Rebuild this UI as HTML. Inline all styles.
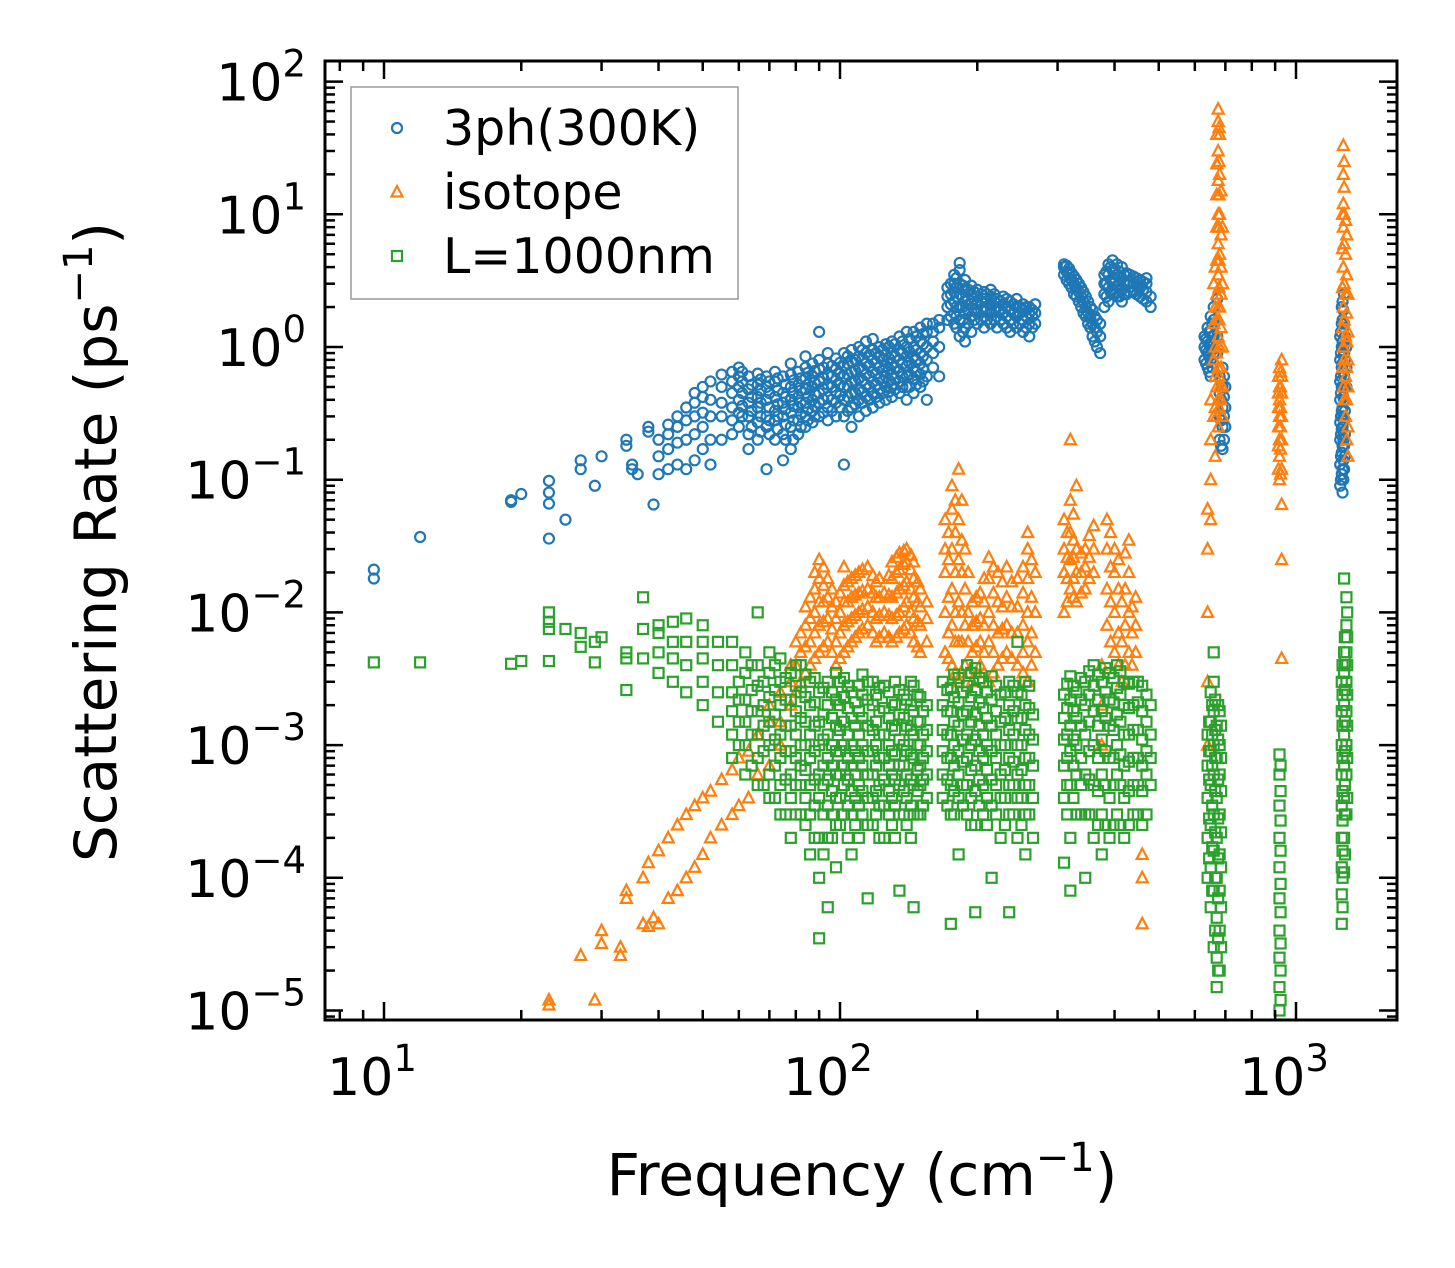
<!DOCTYPE html>
<html><head><meta charset="utf-8"><style>
html,body{margin:0;padding:0;background:#fff}
svg{display:block;font-family:"DejaVu Sans","Liberation Sans",sans-serif}
</style></head><body>
<svg id="chart" width="1455" height="1268" viewBox="0 0 1455 1268">
<rect x="0" y="0" width="1455" height="1268" fill="#fff"/>
<g id="marks"></g>
<g id="axes"></g>
<g id="legend"></g>
</svg>
<script>
const xTicks=[1,2,3];
const yTicks=[2,1,0,-1,-2,-3,-4,-5];
const seriesNames=["3ph(300K)","isotope","L=1000nm"];
const threePh=[[9.5,[0.021,0.018]],[12,[0.037]],[19,[0.07,0.068]],[20,[0.078]],[23,[0.036,0.066,0.08,0.098]],[25,[0.05]],[27,[0.12,0.14]],[29,[0.09]],[30,[0.15]],[34,[0.2,0.18]],[35,[0.13,0.12]],[36,[0.11]],[38,[0.25,0.23]],[39,[0.065]],[40,[0.11,0.15,0.2]],[42,[0.12,0.17,0.22,0.26]],[44,[0.13,0.19,0.25,0.3]],[46,[0.12,0.2,0.28,0.35]],[48,[0.14,0.22,0.3,0.38,0.45]],[50,[0.17,0.25,0.32,0.42,0.5]],[52,[0.13,0.2,0.3,0.4,0.55]],[55,[0.2,0.3,0.38,0.5,0.62]],[58,[0.22,0.28,0.35,0.45,0.55,0.65]],[60,[0.25,0.32,0.4,0.5,0.6,0.7]],[63,[0.17,0.22,0.3,0.38,0.48,0.6]],[66,[0.2,0.27,0.35,0.42,0.52,0.63]],[69,[0.12,0.25,0.3,0.4,0.5,0.6]],[72,[0.2,0.28,0.33,0.42,0.55,0.65]],[75,[0.14,0.22,0.3,0.38,0.45,0.6]],[78,[0.17,0.25,0.32,0.4,0.5,0.62,0.75]],[81,[0.22,0.28,0.35,0.42,0.52,0.65]],[84,[0.25,0.3,0.38,0.48,0.58,0.7,0.85]],[87,[0.27,0.33,0.4,0.5,0.6,0.75]],[90,[0.3,0.38,0.45,0.55,0.68,0.8,1.3]],[94,[0.28,0.35,0.42,0.52,0.62,0.75,0.9]],[98,[0.3,0.38,0.46,0.56,0.68,0.82]],[102,[0.13,0.3,0.4,0.5,0.6,0.72,0.9]],[106,[0.25,0.35,0.45,0.55,0.65,0.78,0.95]],[110,[0.3,0.4,0.48,0.58,0.7,0.85,1.0]],[114,[0.33,0.42,0.52,0.62,0.75,0.9,1.1]],[118,[0.35,0.45,0.55,0.65,0.8,0.95,1.15]],[122,[0.38,0.48,0.58,0.7,0.85,1.0]],[126,[0.4,0.5,0.6,0.72,0.88,1.05]],[130,[0.42,0.52,0.62,0.75,0.9,1.1]],[135,[0.45,0.55,0.66,0.8,0.95,1.2]],[140,[0.4,0.5,0.6,0.72,0.85,1.0,1.3]],[145,[0.45,0.58,0.7,0.85,1.0,1.3]],[150,[0.5,0.62,0.75,0.9,1.1,1.4]],[155,[0.4,0.6,0.8,1.0,1.3,1.5]],[160,[0.7,0.9,1.1,1.3,1.5]],[165,[0.6,1.0,1.4,1.6]],[172,[1.6,2.0,2.4,2.8]],[178,[1.5,1.8,2.2,2.6,3.0,3.5]],[183,[1.2,1.6,2.0,2.5,3.0,3.8,4.3]],[188,[1.1,1.4,1.8,2.2,2.7,3.2]],[194,[1.3,1.7,2.1,2.5,2.9]],[200,[1.5,1.8,2.1,2.4,2.7]],[207,[1.4,1.7,2.0,2.3,2.6]],[214,[1.5,1.8,2.1,2.4,2.7]],[221,[1.4,1.7,2.0,2.3]],[228,[1.5,1.8,2.1,2.4]],[236,[1.3,1.6,1.9,2.2]],[244,[1.4,1.7,2.0,2.3]],[252,[1.3,1.6,1.9,2.1]],[260,[1.2,1.5,1.8,2.0]],[268,[1.5,1.8,2.1]],[310,[3.5,4.0,4.2]],[318,[3.0,3.5,3.9]],[326,[2.5,3.0,3.4]],[334,[2.2,2.6,3.0]],[342,[1.8,2.2,2.6]],[350,[1.5,1.8,2.2]],[358,[1.2,1.5,1.9]],[366,[1.0,1.3,1.6]],[372,[0.9,1.2,1.5]],[380,[2.0,2.5,3.0,3.5]],[388,[2.2,2.8,3.5,4.2]],[396,[2.5,3.0,3.8,4.5]],[405,[2.4,2.9,3.5,4.2]],[415,[2.2,2.7,3.3,4.0]],[425,[2.5,3.0,3.6]],[440,[2.6,3.0,3.4]],[455,[2.4,2.8,3.2]],[470,[2.2,2.6,3.0,3.3]],[480,[2.0,2.4]],[630,[0.8,1.0,1.2]],[640,[0.7,0.9,1.1,1.4]],[650,[0.6,0.8,1.0,1.3,1.7]],[660,[0.9,1.2,1.6,2.0]],[672,[0.9,1.2,2.3]],[680,[0.2,0.3,0.45,0.6]],[690,[0.17,0.25,0.35,0.5,0.7]],[700,[0.25,0.35,0.5]],[1255,[0.1,0.15,0.22,0.3,0.45,0.6,0.9,1.3]],[1265,[0.08,0.12,0.18,0.25,0.35,0.5,0.75,1.1,1.6,2.2]],[1275,[0.12,0.18,0.28,0.4,0.6,0.9,1.5,2.5]],[1290,[0.5,0.7,1.0]]];
const threePhExtra=[[61,[0.3,0.36,0.45,0.55,0.65]],[64,[0.25,0.33,0.42,0.52]],[67,[0.23,0.3,0.38,0.47,0.57]],[70,[0.22,0.28,0.35,0.45,0.55]],[73,[0.24,0.3,0.37,0.47,0.58]],[76,[0.2,0.26,0.34,0.42,0.52]],[79,[0.2,0.28,0.36,0.45,0.56]],[82,[0.25,0.31,0.38,0.47,0.58]],[85,[0.28,0.34,0.42,0.52,0.64]],[88,[0.3,0.36,0.44,0.54,0.66]],[92,[0.32,0.4,0.48,0.58,0.7]],[96,[0.33,0.4,0.5,0.6,0.72]],[100,[0.35,0.43,0.52,0.63,0.76]],[104,[0.33,0.42,0.51,0.62,0.75,0.85]],[108,[0.37,0.45,0.55,0.66,0.8]],[112,[0.38,0.46,0.56,0.68,0.82,0.95]],[116,[0.4,0.5,0.6,0.72,0.87]],[120,[0.42,0.52,0.63,0.76,0.9]],[124,[0.45,0.55,0.66,0.8,0.95]],[128,[0.46,0.56,0.68,0.82,1.0]],[132,[0.48,0.58,0.7,0.85,1.05]],[137,[0.5,0.6,0.74,0.9,1.1]],[142,[0.5,0.62,0.76,0.92,1.15]],[147,[0.52,0.65,0.8,0.95,1.2]],[152,[0.55,0.68,0.85,1.05,1.25]],[175,[1.7,2.1,2.5,3.0]],[180,[1.4,1.7,2.0,2.4,2.8,3.3]],[186,[1.3,1.6,2.0,2.4,2.9]],[191,[1.5,1.9,2.3,2.7]],[197,[1.6,1.9,2.3,2.6]],[204,[1.6,1.9,2.2,2.5]],[210,[1.6,1.9,2.2,2.5]],[218,[1.6,1.9,2.2,2.5]],[225,[1.6,1.9,2.2]],[232,[1.4,1.7,2.0,2.3]],[240,[1.5,1.8,2.1]],[248,[1.5,1.8,2.0]],[256,[1.4,1.7,2.0]],[264,[1.4,1.7,1.9]],[314,[3.2,3.7,4.1]],[322,[2.8,3.2,3.6]],[330,[2.4,2.8,3.2]],[338,[2.0,2.4,2.8]],[346,[1.7,2.0,2.4]],[354,[1.4,1.7,2.0]],[362,[1.1,1.4,1.7]],[384,[2.4,3.0,3.7]],[392,[2.6,3.2,4.0]],[400,[2.6,3.2,3.9]],[410,[2.4,3.0,3.7]],[420,[2.5,3.0,3.5]],[432,[2.6,3.1,3.5]],[447,[2.5,2.9,3.3]],[462,[2.3,2.7,3.1]],[635,[0.75,0.95,1.15]],[645,[0.65,0.85,1.05,1.3]],[655,[0.7,0.95,1.2,1.5]],[685,[0.18,0.28,0.4,0.55]],[695,[0.2,0.3,0.42,0.6]],[1250,[0.09,0.13,0.2,0.27,0.4,0.55,0.8,1.2]],[1260,[0.11,0.16,0.24,0.33,0.5,0.7,1.0,1.5,2.0]],[1270,[0.1,0.14,0.2,0.3,0.42,0.65,1.0,1.4,1.9]],[1280,[0.15,0.22,0.33,0.5,0.8,1.2]]];
const isotope=[[23,[1.2e-5,1.1e-5]],[27,[2.6e-5]],[29,[1.2e-5]],[30,[3.2e-5,4e-5]],[33,[2.6e-5,3e-5]],[34,[7e-5,8e-5]],[37,[4.5e-5,1e-4]],[38,[4.3e-5,1.3e-4]],[39,[5e-5]],[40,[4.5e-5,1.6e-4]],[42,[7e-5,2e-4]],[44,[8e-5,2.5e-4]],[46,[1e-4,3e-4]],[48,[1.2e-4,3.5e-4]],[50,[1.5e-4,4e-4]],[52,[2e-4,4.5e-4]],[55,[2.5e-4,5.5e-4]],[58,[3e-4,6.5e-4]],[60,[3.5e-4,8e-4]],[63,[4e-4,9e-4]],[66,[6e-4,1.2e-3]],[70,[7e-4,1.5e-3,2e-3]],[74,[1e-3,1.5e-3,2.5e-3]],[78,[2e-3,3e-3,4e-3]],[82,[3e-3,5e-3,7e-3]],[86,[4e-3,6e-3,9e-3,1.3e-2]],[90,[5e-3,8e-3,1.2e-2,1.8e-2,2.5e-2]],[94,[6e-3,9e-3,1.3e-2,1.8e-2]],[98,[4e-3,6e-3,9e-3,1.2e-2]],[102,[5e-3,8e-3,1.2e-2,1.6e-2,2.2e-2]],[106,[6e-3,9e-3,1.3e-2,1.8e-2]],[110,[7e-3,1e-2,1.4e-2,2e-2]],[115,[8e-3,1.1e-2,1.5e-2,2.2e-2]],[120,[6e-3,9e-3,1.3e-2,1.7e-2]],[125,[7e-3,1e-2,1.4e-2]],[130,[6e-3,9e-3,1.3e-2,1.8e-2,2.4e-2]],[135,[7e-3,1e-2,1.5e-2,2.1e-2,2.8e-2]],[140,[8e-3,1.2e-2,1.7e-2,2.4e-2,3e-2]],[145,[6e-3,9e-3,1.3e-2,1.8e-2,2.4e-2]],[150,[5e-3,8e-3,1.1e-2,1.5e-2]],[155,[6e-3,9e-3,1.2e-2]],[170,[5e-3,1e-2,2e-2,3e-2,5e-2]],[176,[4e-3,8e-3,1.5e-2,3e-2,6e-2,9e-2]],[182,[3e-3,6e-3,1.2e-2,2.5e-2,5e-2,0.12]],[188,[4e-3,8e-3,1.5e-2,3e-2]],[195,[3e-3,5e-3,8e-3,1.2e-2]],[203,[4e-3,6e-3,9e-3,1.4e-2]],[212,[3e-3,6e-3,1e-2,1.8e-2,2.6e-2]],[222,[4e-3,7e-3,1.2e-2,2e-2]],[232,[5e-3,8e-3,1.3e-2,2.2e-2]],[245,[4e-3,7e-3,1.1e-2,1.8e-2]],[258,[3e-3,6e-3,1e-2,1.8e-2,3e-2,4e-2]],[268,[5e-3,1e-2,2e-2]],[310,[1e-2,2e-2,3e-2,5e-2]],[320,[1.5e-2,2.5e-2,4e-2,7e-2,0.2]],[330,[1.2e-2,2e-2,3e-2,9e-2]],[345,[1.5e-2,2.2e-2,3e-2]],[360,[2e-2,3e-2,4.5e-2]],[375,[1e-3,2e-3,4e-3]],[385,[8e-3,1.5e-2,3e-2,5e-2]],[400,[5e-3,1e-2,2e-2,3e-2]],[415,[3e-3,6e-3,1.2e-2]],[430,[5e-3,1e-2,2e-2,3.5e-2]],[445,[5e-3,8e-3,1.3e-2]],[460,[4.5e-5,1e-4,1.5e-4]],[640,[1e-3,3e-3,1e-2,3e-2,6e-2]],[650,[5e-2,0.1,0.2,0.4]],[660,[0.3,0.8,1.5,3]],[675,[0.25,0.4,0.7,1.2,2,3.5,6,10,18,30,50,62]],[680,[0.5,1,2,5,10,20,40]],[690,[0.3,0.5,1,3,8]],[920,[0.1,0.15,0.2,0.3,0.4,0.5,0.7]],[930,[0.12,0.2,0.3,0.45,0.6,0.8,4.5e-3,2.5e-2,6.5e-2]],[1270,[0.5,1,2,4,8,12,20,33]],[1285,[0.3,0.6,1.2,2.5,5,9]],[1300,[0.15,0.25,0.5,0.8,1.3,2.5]]];
const isotopeExtra=[[80,[2.5e-3,4e-3,6e-3]],[84,[3.5e-3,5.5e-3,8e-3,1.1e-2]],[88,[4.5e-3,7e-3,1e-2,1.5e-2,2e-2]],[92,[5.5e-3,8.5e-3,1.2e-2,1.6e-2,2.2e-2]],[96,[5e-3,7.5e-3,1.1e-2,1.5e-2]],[100,[4.5e-3,7e-3,1e-2,1.4e-2]],[104,[5.5e-3,8.5e-3,1.2e-2,1.7e-2]],[108,[6.5e-3,9.5e-3,1.35e-2,1.9e-2]],[112,[7.5e-3,1.05e-2,1.45e-2,2.1e-2]],[118,[7e-3,1e-2,1.4e-2,1.9e-2]],[122,[6.5e-3,9.5e-3,1.3e-2,1.8e-2]],[128,[6.5e-3,9.5e-3,1.35e-2,1.9e-2]],[133,[6.5e-3,9.5e-3,1.4e-2,2e-2,2.6e-2]],[138,[7.5e-3,1.1e-2,1.6e-2,2.3e-2,2.9e-2]],[143,[7e-3,1e-2,1.5e-2,2.1e-2,2.7e-2]],[148,[5.5e-3,8.5e-3,1.2e-2,1.7e-2]],[173,[4.5e-3,7e-3,1.3e-2,2.5e-2,4e-2]],[179,[3.5e-3,6e-3,1e-2,2e-2,4e-2,7e-2]],[185,[3.5e-3,6e-3,1e-2,2e-2,3.5e-2,7e-2]],[191,[3.5e-3,6e-3,1e-2,2e-2]],[199,[3.5e-3,5.5e-3,8.5e-3,1.3e-2]],[207,[3.5e-3,5e-3,8e-3,1.2e-2,1.8e-2]],[217,[3.5e-3,5e-3,8e-3,1.4e-2,2.2e-2]],[227,[4.5e-3,7.5e-3,1.1e-2,1.7e-2]],[238,[4.5e-3,7e-3,1.1e-2,1.7e-2]],[252,[3.5e-3,5e-3,8e-3,1.4e-2,2.2e-2]],[263,[4e-3,7e-3,1.3e-2,2.5e-2]],[315,[1.2e-2,1.8e-2,2.6e-2,4e-2]],[325,[1.3e-2,1.8e-2,2.6e-2,3.5e-2,5.5e-2]],[338,[1.4e-2,2e-2,2.8e-2]],[352,[1.8e-2,2.6e-2,3.8e-2]],[392,[6e-3,1.2e-2,2.2e-2,4e-2]],[408,[4e-3,7e-3,1.5e-2,2.5e-2]],[422,[4e-3,8e-3,1.5e-2,2.8e-2]],[437,[4e-3,7e-3,1.1e-2]],[665,[0.15,0.35,0.6,1,2,4]],[670,[0.3,0.5,0.9,1.6,2.5,4.5,8,14,24,40]],[678,[0.35,0.6,1,1.6,2.8,4.5,8,14,25,45]],[685,[0.4,0.7,1.4,2.5,4,7,15]],[915,[0.12,0.18,0.25,0.35,0.45,0.6]],[925,[0.11,0.17,0.25,0.35,0.5,0.65]],[1265,[0.7,1.4,2.8,5.5,10]],[1275,[0.4,0.8,1.6,3,6,10,16,25]],[1292,[0.2,0.4,0.7,1.1,1.8,3.5,7]]];
const boundary=[[9.5,[4.2e-3]],[12,[4.2e-3]],[19,[4.1e-3]],[20,[4.3e-3]],[23,[4.3e-3,7.5e-3,8.5e-3,1e-2]],[25,[7.5e-3]],[27,[5.5e-3,7e-3]],[29,[4.2e-3,6e-3]],[30,[6.5e-3]],[34,[2.6e-3,4.5e-3,5e-3]],[37,[7.5e-3,1.3e-2,4.5e-3]],[40,[3.5e-3,5e-3,7e-3,8e-3]],[43,[3e-3,4.5e-3,6e-3,8.5e-3]],[46,[2.5e-3,4e-3,6e-3,9e-3]],[50,[2e-3,3e-3,4.5e-3,6e-3,8e-3]],[54,[1.5e-3,2.5e-3,4e-3,6e-3]],[58,[8e-4,1.2e-3,1.8e-3,2.5e-3,4e-3,6e-3]],[62,[6e-4,1e-3,1.5e-3,2.2e-3,3.5e-3,5e-3]],[66,[5e-4,8e-4,1.2e-3,1.8e-3,2.8e-3,4e-3,1e-2]],[70,[4e-4,6e-4,1e-3,1.5e-3,2.3e-3,3.5e-3,5e-3]],[74,[3e-4,5e-4,8e-4,1.2e-3,2e-3,3e-3,4.5e-3]],[78,[2e-4,4e-4,6e-4,9e-4,1.4e-3,2.2e-3,3.5e-3]],[82,[3e-4,5e-4,7e-4,1e-3,1.6e-3,2.5e-3,4e-3]],[86,[1.5e-4,3e-4,5e-4,8e-4,1.2e-3,2e-3,3e-3]],[90,[3.5e-5,1e-4,2e-4,4e-4,6e-4,1e-3,1.5e-3,2.5e-3]],[94,[6e-5,2e-4,3.5e-4,5.5e-4,8e-4,1.2e-3,2e-3,3e-3]],[98,[1.2e-4,2.5e-4,4e-4,6e-4,9e-4,1.4e-3,2.2e-3,3.5e-3]],[102,[3e-4,5e-4,7e-4,1e-3,1.5e-3,2.3e-3,3.2e-3]],[106,[1.5e-4,3e-4,4.5e-4,7e-4,1e-3,1.6e-3,2.5e-3]],[110,[2e-4,3.5e-4,5e-4,8e-4,1.2e-3,1.8e-3,2.8e-3]],[115,[7e-5,2.5e-4,4e-4,6e-4,9e-4,1.4e-3,2.2e-3,3e-3]],[120,[3e-4,4.5e-4,7e-4,1e-3,1.5e-3,2.4e-3]],[125,[2e-4,3.5e-4,5.5e-4,8e-4,1.2e-3,1.9e-3,2.8e-3]],[130,[2.5e-4,4e-4,6e-4,9e-4,1.4e-3,2.1e-3]],[135,[8e-5,3e-4,5e-4,7e-4,1.1e-3,1.7e-3,2.6e-3]],[140,[2.5e-4,4e-4,6e-4,9e-4,1.4e-3,2.2e-3]],[145,[6e-5,3e-4,5e-4,8e-4,1.2e-3,1.8e-3,2.8e-3]],[150,[3e-4,5e-4,7e-4,1e-3,1.5e-3,2.3e-3]],[155,[4e-4,6e-4,9e-4,1.3e-3,2e-3]],[168,[4e-4,6e-4,9e-4,1.3e-3,2e-3,3e-3]],[175,[4.5e-5,3e-4,5e-4,8e-4,1.2e-3,1.8e-3,2.7e-3]],[182,[1.5e-4,4e-4,6e-4,9e-4,1.4e-3,2.1e-3,3.2e-3]],[190,[3e-4,5e-4,8e-4,1.2e-3,1.8e-3,2.8e-3,4e-3]],[198,[5.5e-5,2.5e-4,4.5e-4,7e-4,1.1e-3,1.7e-3,2.6e-3,3.8e-3]],[206,[3e-4,5e-4,8e-4,1.2e-3,1.9e-3,3e-3]],[215,[1e-4,3.5e-4,5.5e-4,9e-4,1.4e-3,2.2e-3,3.3e-3]],[225,[2e-4,4e-4,6e-4,1e-3,1.5e-3,2.4e-3]],[235,[5.5e-5,3e-4,5e-4,8e-4,1.3e-3,2e-3,3e-3]],[245,[2e-4,4e-4,6e-4,1e-3,1.6e-3,2.5e-3,6e-3]],[255,[1.5e-4,3e-4,5e-4,8e-4,1.3e-3,2e-3,3e-3]],[265,[2e-4,4e-4,7e-4,1.1e-3,1.7e-3]],[310,[1.3e-4,4e-4,7e-4,1.1e-3,1.6e-3,2.4e-3]],[320,[8e-5,2e-4,5e-4,9e-4,1.4e-3,2.2e-3,3.3e-3]],[330,[3e-4,6e-4,1e-3,1.6e-3,2.5e-3]],[345,[1e-4,3e-4,6e-4,1.2e-3,2e-3,3e-3]],[360,[2e-4,5e-4,1e-3,1.8e-3,2.8e-3,4e-3]],[375,[1.5e-4,3e-4,6e-4,1.1e-3,1.8e-3,3e-3]],[390,[2e-4,4e-4,8e-4,1.4e-3,2.2e-3,3.5e-3]],[405,[3e-4,6e-4,1e-3,1.7e-3,2.7e-3,4e-3]],[420,[2e-4,4e-4,7e-4,1.2e-3,2e-3,3e-3]],[440,[3e-4,5e-4,8e-4,1.3e-3,2e-3,3e-3]],[460,[2.5e-4,4.5e-4,7e-4,1.1e-3,1.8e-3,2.8e-3]],[480,[5e-4,8e-4,1.2e-3,2e-3]],[640,[1e-4,2e-4,4e-4,7e-4,1.2e-3]],[650,[6e-5,1.2e-4,2.5e-4,5e-4,9e-4,1.5e-3,2.5e-3]],[660,[3e-5,8e-5,1.6e-4,3e-4,6e-4,1e-3,1.8e-3,3e-3,5e-3]],[670,[1.5e-5,2.5e-5,5e-5,1e-4,2e-4,4e-4,8e-4,1.4e-3]],[680,[2e-5,4e-5,8e-5,1.5e-4,3e-4,6e-4,1e-3,1.8e-3]],[920,[1e-5,1.5e-5,2.5e-5,4e-5,7e-5,1.2e-4,2e-4,3.5e-4,6e-4,8.5e-4]],[1260,[4.5e-5,7.5e-5,1.2e-4,2e-4,3.5e-4,6e-4,1e-3,1.8e-3,3e-3]],[1275,[1.1e-4,2e-4,4e-4,7e-4,1.2e-3,2e-3,3.5e-3,5e-3,1.8e-2]],[1290,[3e-4,6e-4,1e-3,1.8e-3,3e-3,5e-3,8e-3,1.3e-2]]];
const boundaryExtra=[[60,[1e-3,1.5e-3,2.2e-3,3e-3]],[64,[7e-4,1.2e-3,1.8e-3,2.6e-3,4e-3]],[68,[5e-4,9e-4,1.4e-3,2e-3,3e-3]],[72,[4e-4,7e-4,1.1e-3,1.7e-3,2.6e-3,4e-3]],[76,[3e-4,5.5e-4,9e-4,1.4e-3,2.2e-3,3.2e-3]],[80,[3e-4,5e-4,8e-4,1.2e-3,1.8e-3,2.8e-3,4e-3]],[84,[2.5e-4,4e-4,6.5e-4,1e-3,1.5e-3,2.3e-3,3.4e-3]],[88,[2e-4,3.5e-4,5.5e-4,9e-4,1.4e-3,2.1e-3,3.2e-3]],[92,[1.5e-4,3e-4,5e-4,7e-4,1.1e-3,1.7e-3,2.7e-3]],[96,[2e-4,3e-4,4.5e-4,7e-4,1e-3,1.6e-3,2.5e-3]],[100,[2.5e-4,4e-4,6e-4,9e-4,1.3e-3,2e-3,3e-3]],[104,[2e-4,3.5e-4,5.5e-4,8e-4,1.2e-3,1.9e-3,2.8e-3]],[108,[2.5e-4,4e-4,6e-4,9e-4,1.4e-3,2.1e-3]],[112,[3e-4,4.5e-4,7e-4,1e-3,1.6e-3,2.4e-3,3.4e-3]],[118,[2.5e-4,4e-4,6e-4,9e-4,1.3e-3,2e-3,3e-3]],[122,[2e-4,3.5e-4,5e-4,8e-4,1.2e-3,1.8e-3,2.7e-3]],[128,[3e-4,4.5e-4,7e-4,1e-3,1.6e-3,2.5e-3]],[132,[2e-4,3.5e-4,5.5e-4,8.5e-4,1.3e-3,2e-3,3e-3]],[138,[3e-4,4.5e-4,7e-4,1e-3,1.6e-3,2.4e-3]],[143,[2e-4,3.5e-4,5.5e-4,8.5e-4,1.3e-3,2e-3,3e-3]],[148,[3e-4,4.5e-4,6.5e-4,1e-3,1.5e-3,2.4e-3]],[152,[3.5e-4,5.5e-4,8e-4,1.2e-3,1.8e-3]],[172,[3.5e-4,5.5e-4,8e-4,1.2e-3,1.8e-3,2.6e-3]],[178,[3e-4,4.5e-4,7e-4,1e-3,1.5e-3,2.3e-3,3.4e-3]],[186,[3.5e-4,5e-4,7.5e-4,1.1e-3,1.7e-3,2.5e-3]],[194,[2.5e-4,4e-4,6.5e-4,1e-3,1.5e-3,2.3e-3,3.5e-3]],[202,[3.5e-4,5.5e-4,9e-4,1.4e-3,2.1e-3,3.2e-3]],[210,[2.5e-4,4e-4,6.5e-4,1e-3,1.6e-3,2.5e-3]],[220,[3e-4,5e-4,8e-4,1.2e-3,1.8e-3,2.8e-3]],[230,[2.5e-4,4e-4,6.5e-4,1e-3,1.6e-3,2.5e-3]],[240,[3e-4,5e-4,7.5e-4,1.2e-3,1.8e-3,2.8e-3]],[250,[2.5e-4,4e-4,6.5e-4,1e-3,1.6e-3,2.4e-3]],[260,[3e-4,5e-4,8e-4,1.2e-3,1.9e-3,2.8e-3]],[315,[3e-4,5e-4,8e-4,1.2e-3,1.9e-3,2.9e-3]],[325,[4e-4,7e-4,1.1e-3,1.8e-3,2.8e-3]],[338,[3e-4,5e-4,8e-4,1.4e-3,2.2e-3,3.2e-3]],[352,[3e-4,5.5e-4,9e-4,1.5e-3,2.4e-3,3.6e-3]],[368,[2.5e-4,4.5e-4,8e-4,1.4e-3,2.2e-3,3.4e-3]],[382,[2.5e-4,5e-4,9e-4,1.6e-3,2.5e-3,3.8e-3]],[398,[2.5e-4,5e-4,8e-4,1.3e-3,2.1e-3,3.2e-3]],[412,[2.5e-4,5e-4,8.5e-4,1.5e-3,2.4e-3,3.6e-3]],[430,[2.5e-4,4.5e-4,7.5e-4,1.2e-3,1.9e-3,2.9e-3]],[450,[3e-4,5e-4,8e-4,1.3e-3,2.1e-3,3e-3]],[470,[3e-4,6e-4,9e-4,1.5e-3,2.4e-3]],[645,[1.4e-4,2.8e-4,5.5e-4,9e-4,1.5e-3]],[655,[8e-5,1.7e-4,3.5e-4,7e-4,1.2e-3,2e-3]],[665,[4e-5,1e-4,2.2e-4,4.5e-4,8e-4,1.3e-3,2.2e-3]],[675,[2e-5,3.5e-5,7e-5,1.4e-4,2.8e-4,5.5e-4,1.1e-3,2e-3]],[685,[3e-5,6e-5,1.2e-4,2.2e-4,4.5e-4,8e-4,1.4e-3]],[925,[1.2e-5,2e-5,3.2e-5,5.5e-5,9e-5,1.6e-4,2.7e-4,4.5e-4,7e-4]],[1265,[6e-5,1e-4,1.6e-4,2.7e-4,4.5e-4,8e-4,1.4e-3,2.4e-3,4e-3]],[1280,[1.5e-4,3e-4,5e-4,9e-4,1.5e-3,2.6e-3,4.2e-3,6.5e-3]],[1295,[4e-4,8e-4,1.4e-3,2.4e-3,4e-3,6.5e-3,1e-2]]];

const NS="http://www.w3.org/2000/svg";
const L=325,R=1397,T=61,B=1020;
const X0=384,XD=456, Y0=347,YD=132.7;
function xs(v){return X0+(Math.log10(v)-1)*XD;}
function ys(v){return Y0-Math.log10(v)*YD;}
function mk(tag,attrs,parent){const e=document.createElementNS(NS,tag);for(const k in attrs)e.setAttribute(k,attrs[k]);parent.appendChild(e);return e;}
const colors=["#1f77b4","#ff7f0e","#2ca02c"];
function marker(kind,cx,cy,parent){
  let e;
  if(kind===0){e=mk('circle',{cx:cx,cy:cy,r:5,fill:'none',stroke:colors[0],'stroke-width':2.2},parent);}
  else if(kind===1){e=mk('polygon',{points:`${cx},${cy-6} ${cx+5.5},${cy+4.5} ${cx-5.5},${cy+4.5}`,fill:'none',stroke:colors[1],'stroke-width':2.2},parent);}
  else {e=mk('rect',{x:cx-5,y:cy-5,width:10,height:10,fill:'none',stroke:colors[2],'stroke-width':2.2},parent);}
  return e;
}
const marks=document.getElementById('marks');
const groupNames=['series-3ph','series-isotope','series-boundary'];
[threePh.concat(threePhExtra),isotope.concat(isotopeExtra),boundary.concat(boundaryExtra)].forEach((ser,si)=>{
  const g=mk('g',{},marks);
  
  
  ser.forEach(([f,rs])=>{rs.forEach(r=>{
    const m=marker(si,xs(f),ys(r),g);
    
    
  });});
});
const ax=document.getElementById('axes');
const frame=mk('rect',{x:L,y:T,width:R-L,height:B-T,fill:'none',stroke:'#000','stroke-width':3},ax);


for(let d=0;d<=3;d++){for(let k=1;k<10;k++){
  const v=Math.pow(10,d)*k; const x=xs(v); if(x<L+2||x>R-2)continue;
  const len=k===1?18:10;
  mk('line',{x1:x,y1:B,x2:x,y2:B-len,stroke:'#000','stroke-width':2.5},ax);
  mk('line',{x1:x,y1:T,x2:x,y2:T+len,stroke:'#000','stroke-width':2.5},ax);
}}
for(let d=-6;d<=2;d++){for(let k=1;k<10;k++){
  const v=Math.pow(10,d)*k; const y=ys(v); if(y<T+2||y>B-2)continue;
  const len=k===1?18:10;
  mk('line',{x1:L,y1:y,x2:L+len,y2:y,stroke:'#000','stroke-width':2.5},ax);
  mk('line',{x1:R,y1:y,x2:R-len,y2:y,stroke:'#000','stroke-width':2.5},ax);
}}
xTicks.forEach(p=>{
  const t=mk('text',{x:xs(Math.pow(10,p))-12,y:1095,'font-size':52,'text-anchor':'middle'},ax);
  
  
  t.innerHTML=`10<tspan dy="-24" font-size="37">${p}</tspan>`;
});
yTicks.forEach(p=>{
  const t=mk('text',{x:306,y:ys(Math.pow(10,p))+19,'font-size':52,'text-anchor':'end'},ax);
  
  
  const s=p<0?'\u2212'+(-p):''+p;
  t.innerHTML=`10<tspan dy="-24" font-size="37">${s}</tspan>`;
});
const xl=mk('text',{x:862,y:1195,'font-size':58,'text-anchor':'middle'},ax);


xl.innerHTML='Frequency (cm<tspan dy="-24" font-size="40">\u22121</tspan><tspan dy="24">)</tspan>';
const yl=mk('text',{x:0,y:0,'font-size':58,'text-anchor':'middle',transform:'translate(116,542) rotate(-90)'},ax);


yl.innerHTML='Scattering Rate (ps<tspan dy="-24" font-size="40">\u22121</tspan><tspan dy="24">)</tspan>';
const lg=document.getElementById('legend');
mk('rect',{x:351,y:87,width:387,height:212,fill:'#fff','fill-opacity':0.8,stroke:'#999','stroke-width':1.5},lg);
seriesNames.forEach((n,i)=>{
  const y=128+i*64;
  const m=marker(i,397,y,lg);
  
  
  const t=mk('text',{x:443,y:y+17,'font-size':49},lg);
  
  
  t.textContent=n;
});
</script>
</body></html>
